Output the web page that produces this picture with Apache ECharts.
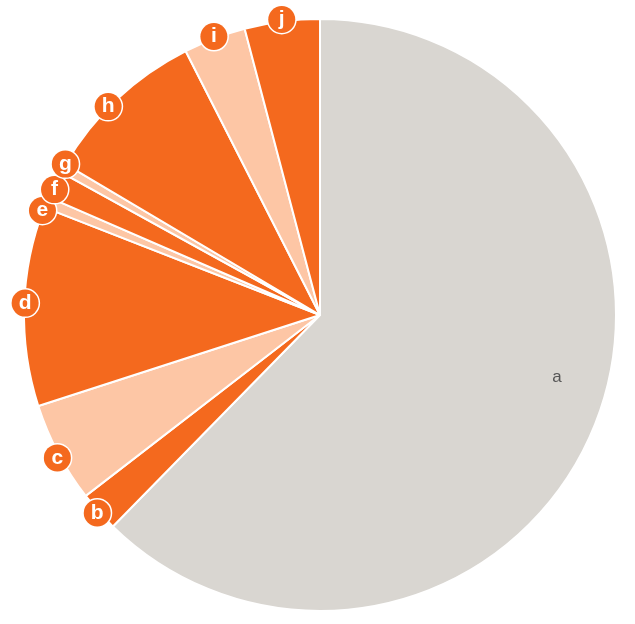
<!DOCTYPE html>
<html>
<head>
<meta charset="utf-8">
<script src="https://cdn.jsdelivr.net/npm/echarts@6/dist/echarts.min.js"></script>
<style>html,body{margin:0;padding:0;background:#fff;}#chart{width:635px;height:624px;}</style>
</head>
<body>
<div id="chart"></div>
<script>
var categories = ['a','b','c','d','e','f','g','h','i','j'];
var values = [62.4, 2.2, 5.5, 10.9, 0.6, 1.5, 0.5, 9.0, 3.4, 4.1];
var colors = ['#d9d6d1','#f4691e','#fdc6a5','#f4691e','#fdc6a5','#f4691e','#fdc6a5','#f4691e','#fdc6a5','#f4691e'];

var ORANGE = '#f4691e';
var center = [320, 315];
var R = 296;
var LR = 295;
// small nudges for crowded / off-centre labels
var labelNudge = { a: [-39, -50], c: [1, 4], d: [3, -3], e: [-2, 9], f: [2, 6], g: [4, -3], h: [-8, 9] };

var mainData = categories.map(function(c, i){
  return { name: c, value: values[i], itemStyle: { color: colors[i] } };
});
var labelData = categories.map(function(c, i){
  if (i === 0) {
    return { name: c, value: values[i], label: {
      color: '#555', fontSize: 17, fontWeight: 'normal', backgroundColor: 'transparent',
      borderWidth: 0, width: null, height: null
    } };
  }
  return { name: c, value: values[i] };
});

var chart = echarts.init(document.getElementById('chart'), null, {renderer: 'canvas'});
chart.setOption({
  animation: false,
  series: [
    {
      type: 'pie',
      center: center,
      radius: [0, R],
      startAngle: 90,
      clockwise: true,
      silent: true,
      label: { show: false },
      labelLine: { show: false },
      itemStyle: { borderColor: '#ffffff', borderWidth: 2 },
      data: mainData
    },
    {
      type: 'pie',
      center: center,
      radius: [LR - 14, LR + 14],
      startAngle: 90,
      clockwise: true,
      silent: true,
      avoidLabelOverlap: false,
      itemStyle: { color: 'rgba(0,0,0,0)', borderWidth: 0 },
      labelLine: { show: false },
      labelLayout: function (p) {
        var n = labelNudge[categories[p.dataIndex]];
        if (n) { return { dx: n[0], dy: n[1], hideOverlap: false }; }
        return { hideOverlap: false };
      },
      label: {
        show: true,
        position: 'inside',
        formatter: '{b}',
        color: '#ffffff',
        fontFamily: 'Liberation Sans, Arial, sans-serif',
        fontSize: 21,
        fontWeight: 'bold',
        backgroundColor: ORANGE,
        borderColor: '#ffffff',
        borderWidth: 1.5,
        borderRadius: 15,
        width: 27,
        height: 27,
        lineHeight: 27,
        align: 'center',
        verticalAlign: 'middle'
      },
      data: labelData
    }
  ]
});
</script>
</body>
</html>
